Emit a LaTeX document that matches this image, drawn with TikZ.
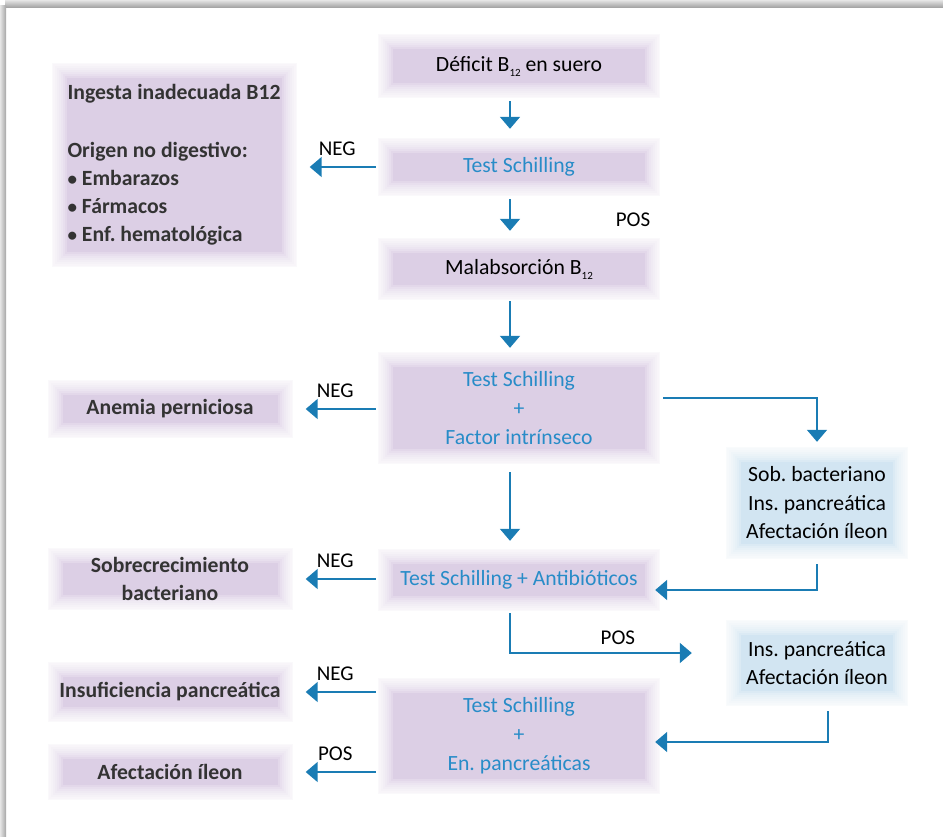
\documentclass[tikz,border=0pt]{standalone}
\usepackage{fontspec}
\setmainfont{Carlito}
\usetikzlibrary{arrows.meta}
\definecolor{lav}{RGB}{220,207,229}
\definecolor{skyb}{RGB}{210,229,242}
\definecolor{arrowblue}{RGB}{26,124,180}
\definecolor{textblue}{RGB}{40,140,200}
\newcommand{\subtw}{\raisebox{-5pt}{\fontsize{11}{11}\selectfont 12}}
\newcommand{\bul}{{\fontsize{19}{19}\selectfont\textbullet}\ }
\frenchspacing
\begin{document}
\begin{tikzpicture}[x=1pt,y=-1pt,
    glow/.style={postaction={draw=white, line width=30pt, opacity=0.2},
                 postaction={draw=white, line width=26pt, opacity=0.2},
                 postaction={draw=white, line width=22pt, opacity=0.2},
                 postaction={draw=white, line width=18pt, opacity=0.2},
                 postaction={draw=white, line width=14pt, opacity=0.2},
                 postaction={draw=white, line width=10pt, opacity=0.25},
                 postaction={draw=white, line width=6pt, opacity=0.3},
                 postaction={draw=white, line width=2pt, opacity=0.4}},
    mainbox/.style={glow, fill=lav, minimum width=282pt, align=center,
                    font=\fontsize{21.7}{29}\selectfont},
    leftbox/.style={glow, fill=lav, minimum width=245pt, align=center,
                    text=black!80, font=\fontsize{21.7}{28}\selectfont\bfseries},
    rightbox/.style={glow, fill=skyb, minimum width=182pt, align=center,
                     font=\fontsize{21.7}{28.5}\selectfont},
    arr/.style={draw=arrowblue, line width=1.8pt, -{Triangle[width=20pt,length=12pt]}},
    lbl/.style={font=\fontsize{21}{21}\selectfont}]
    \useasboundingbox (0,0) rectangle (943,836);
    % frame shadow
    \shade[top color=black!10, bottom color=black!35] (5,0) rectangle (943,7);
    \shade[left color=black!10, right color=black!35] (0,5) rectangle (6,836);
    % Main column
    \node[mainbox, minimum height=64pt] (deficit) at (519,66) {D\'eficit B\subtw{} en suero};
    \node[mainbox, minimum height=58pt, text=textblue] (ts1) at (519,167) {Test Schilling};
    \node[mainbox, minimum height=62pt] (malab) at (519,269) {Malabsorci\'on B\subtw};
    \node[mainbox, minimum height=112pt, text=textblue] (tsfi) at (519,408) {Test Schilling\\+\\Factor intr\'inseco};
    \node[mainbox, minimum height=62pt, text=textblue] (tsab) at (519,580) {Test Schilling + Antibi\'oticos};
    \node[mainbox, minimum height=116pt, text=textblue] (tsep) at (519,736) {Test Schilling\\+\\En. pancre\'aticas};
    % Left column
    \node[leftbox, minimum height=204pt, align=left] (orig) at (174,165)
        {Ingesta inadecuada B12\\[30pt]Origen no digestivo:\\\bul Embarazos\\\bul F\'armacos\\\bul Enf. hematol\'ogica};
    \node[leftbox, minimum height=58pt] (anemia) at (170,409) {Anemia perniciosa};
    \node[leftbox, minimum height=62pt] (sobre) at (170,579) {Sobrecrecimiento\\bacteriano};
    \node[leftbox, minimum height=60pt] (insuf) at (170,692) {Insuficiencia pancre\'atica};
    \node[leftbox, minimum height=56pt] (ileon) at (170,772) {Afectaci\'on \'ileon};
    % Right column
    \node[rightbox, minimum height=112pt] (sob3) at (817,503) {Sob. bacteriano\\Ins. pancre\'atica\\Afectaci\'on \'ileon};
    \node[rightbox, minimum height=86pt] (ins2) at (817,663) {Ins. pancre\'atica\\Afectaci\'on \'ileon};
    % Vertical arrows
    \draw[arr, shorten <=3pt, shorten >=9pt] ([xshift=-9pt]deficit.south) -- ([xshift=-9pt]ts1.north);
    \draw[arr, shorten <=3pt, shorten >=7pt] ([xshift=-9pt]ts1.south) -- ([xshift=-9pt]malab.north)
        node[lbl, midway, xshift=123pt, yshift=-3pt] {POS};
    \draw[arr, shorten <=1pt, shorten >=4pt] ([xshift=-9pt]malab.south) -- ([xshift=-9pt]tsfi.north);
    \draw[arr, shorten <=8pt, shorten >=8pt] ([xshift=-9pt]tsfi.south) -- ([xshift=-9pt]tsab.north);
    % Left arrows
    \draw[arr, shorten <=2pt, shorten >=13pt] (ts1.west) -- (ts1.west -| orig.east)
        node[lbl, midway, above=7pt] {NEG};
    \draw[arr, shorten <=2pt, shorten >=13pt] (tsfi.west |- anemia.east) -- (anemia.east)
        node[lbl, midway, above=7pt] {NEG};
    \draw[arr, shorten <=2pt, shorten >=13pt] (tsab.west |- sobre.east) -- (sobre.east)
        node[lbl, midway, above=7pt] {NEG};
    \draw[arr, shorten <=2pt, shorten >=13pt] (tsep.west |- insuf.east) -- (insuf.east)
        node[lbl, midway, above=7pt] {NEG};
    \draw[arr, shorten <=2pt, shorten >=13pt] (tsep.west |- ileon.east) -- (ileon.east)
        node[lbl, midway, above=7pt] {POS};
    % Right branch
    \draw[arr, shorten <=3pt, shorten >=5pt] ([yshift=10pt]tsfi.east) -| (sob3.north);
    \draw[arr, shorten <=5pt, shorten >=-5pt] (sob3.south) |- ([yshift=-10pt]tsab.east);
    \draw[arr, shorten <=2pt, shorten >=34pt] ([xshift=-9pt]tsab.south) |- ([yshift=10pt]ins2.west)
        node[lbl, pos=0.75, above=4pt] {POS};
    \draw[arr, shorten <=5pt, shorten >=-5pt] ([xshift=11pt]ins2.south) |- ([yshift=-6pt]tsep.east);
\end{tikzpicture}
\end{document}
